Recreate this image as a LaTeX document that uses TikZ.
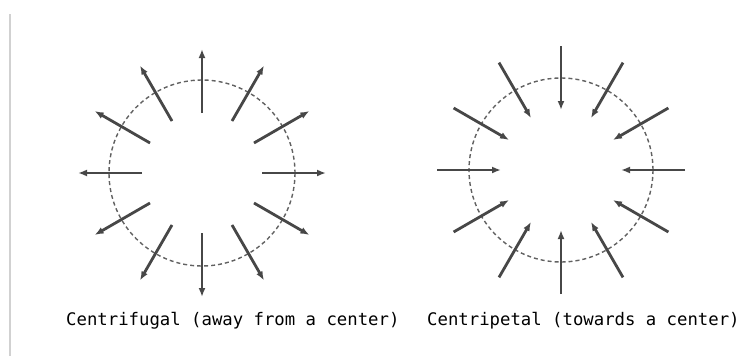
\documentclass[tikz,border=0pt]{standalone}
\usepackage{fontspec}
\setmonofont{DejaVu Sans Mono}
\usetikzlibrary{arrows.meta, calc}
\begin{document}
\begin{tikzpicture}[x=1pt, y=-1pt, line cap=butt, >={Latex[length=9pt,width=7pt]}]
			% Define window bounds (pixel units, y downwards)
			\useasboundingbox (0,0) rectangle (753,356);
			\def\rin{60} \def\rout{124} \def\rcirc{93}
			
			% Colors matching the original image
			\colorlet{arrowgray}{black!72}
			\colorlet{circgray}{black!62}
			\colorlet{rulegray}{black!18}
			
			% Margin rule on the left
			\draw[rulegray, line width=1.6pt] (10,14) -- (10,356);
			
			% Centres of the two circles
			\coordinate (L) at (202,173);
			\coordinate (R) at (561,170);
			
			% Dashed circles
			\draw[circgray, line width=1.4pt, dash pattern=on 4pt off 3pt] (L) circle (\rcirc);
			\draw[circgray, line width=1.4pt, dash pattern=on 4pt off 3pt] (R) circle (92);
			
			% Arrows every 30 degrees
			\foreach \a in {0,30,...,330}{
				\coordinate (Lin\a) at ($(L)+(\a:\rin)$);
				\coordinate (Lout\a) at ($(L)+(\a:\rout)$);
				\coordinate (Rin\a) at ($(R)+(\a:\rin)$);
				\coordinate (Rout\a) at ($(R)+(\a:\rout)$);
				\draw[->, arrowgray, line width=2.8pt] (Lin\a) -- (Lout\a);
				\draw[->, arrowgray, line width=2.8pt] (Rout\a) -- (Rin\a);
			}
			
			% Captions
			\node[anchor=base west, inner sep=0pt, font=\ttfamily\fontsize{17.3}{20}\selectfont] (capL) at (66,325) {Centrifugal (away from a center)};
			\node[anchor=base west, inner sep=0pt, font=\ttfamily\fontsize{17.3}{20}\selectfont] (capR) at (427,325) {Centripetal (towards a center)};
		\end{tikzpicture}
\end{document}
